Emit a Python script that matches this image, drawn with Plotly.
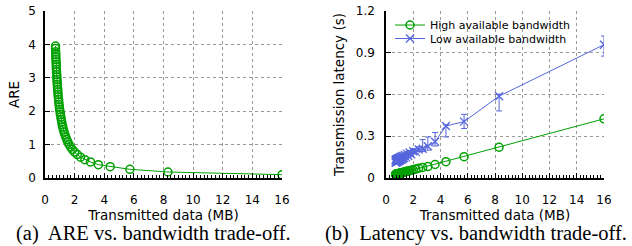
import plotly.graph_objects as go

# ---------------- data ----------------
# (a) ARE vs transmitted data
are_x = [16.0, 8.3, 5.73, 4.4, 3.6, 3.07, 2.69, 2.4, 2.18, 2.0, 1.85, 1.73, 1.63,
         1.54, 1.47, 1.4, 1.34, 1.29, 1.24, 1.2, 1.16, 1.13, 1.10, 1.07, 1.04, 1.02,
         0.99, 0.97, 0.95, 0.93, 0.92, 0.9, 0.88, 0.87, 0.86, 0.84, 0.83, 0.82, 0.81,
         0.8, 0.79, 0.78, 0.77, 0.76, 0.76, 0.75, 0.74, 0.73, 0.73, 0.72, 0.71, 0.71]
are_y = [0.10, 0.18, 0.26, 0.34, 0.40, 0.48, 0.55, 0.625, 0.70, 0.775, 0.85, 0.925, 1.0,
         1.075, 1.15, 1.225, 1.30, 1.375, 1.45, 1.525, 1.60, 1.675, 1.75, 1.825, 1.90, 1.975,
         2.05, 2.125, 2.20, 2.275, 2.35, 2.425, 2.50, 2.575, 2.65, 2.725, 2.80, 2.875, 2.95,
         3.025, 3.10, 3.175, 3.25, 3.325, 3.40, 3.475, 3.55, 3.625, 3.70, 3.78, 3.88, 3.95]

# (b) latency vs transmitted data
lat_x = are_x
lat_high = [0.425, 0.221, 0.153, 0.117, 0.097, 0.082, 0.076, 0.070, 0.064, 0.059, 0.056, 0.052, 0.050,
            0.048, 0.046, 0.044, 0.042, 0.041, 0.040, 0.039, 0.038, 0.037, 0.036, 0.035, 0.035, 0.034,
            0.033, 0.033, 0.032, 0.032, 0.032, 0.031, 0.031, 0.030, 0.030, 0.030, 0.029, 0.029, 0.029,
            0.029, 0.028, 0.028, 0.028, 0.028, 0.028, 0.027, 0.027, 0.027, 0.027, 0.027, 0.026, 0.026]
lat_low = [0.958, 0.588, 0.405, 0.374, 0.260, 0.228, 0.210, 0.205, 0.188, 0.192, 0.170, 0.183, 0.160,
           0.175, 0.150, 0.166, 0.143, 0.160, 0.138, 0.156, 0.134, 0.153, 0.131, 0.150, 0.128, 0.147,
           0.126, 0.144, 0.124, 0.142, 0.122, 0.140, 0.120, 0.138, 0.119, 0.137, 0.118, 0.135, 0.117,
           0.134, 0.116, 0.133, 0.115, 0.132, 0.114, 0.131, 0.113, 0.130, 0.112, 0.129, 0.111, 0.128]
lat_low_err_plus = [0.062, 0.015, 0.053, 0.008, 0.067, 0.067, 0.066, 0.020, 0.018, 0.018, 0.016, 0.016, 0.015,
                    0.015, 0.014, 0.014, 0.014, 0.013, 0.013, 0.013, 0.012, 0.012, 0.012, 0.012, 0.011, 0.011,
                    0.011, 0.011, 0.011, 0.010, 0.010, 0.010, 0.010, 0.010, 0.010, 0.010, 0.010, 0.010, 0.010,
                    0.010, 0.010, 0.010, 0.010, 0.010, 0.010, 0.010, 0.010, 0.010, 0.010, 0.010, 0.010, 0.010]
lat_low_err_minus = [0.082, 0.106, 0.049, 0.079, 0.030, 0.028, 0.020, 0.015, 0.015, 0.014, 0.014, 0.013, 0.013,
                     0.012, 0.012, 0.012, 0.011, 0.011, 0.011, 0.011, 0.010, 0.010, 0.010, 0.010, 0.010, 0.010,
                     0.010, 0.010, 0.010, 0.010, 0.010, 0.010, 0.010, 0.010, 0.010, 0.010, 0.010, 0.010, 0.010,
                     0.010, 0.010, 0.010, 0.010, 0.010, 0.010, 0.010, 0.010, 0.010, 0.010, 0.010, 0.010, 0.010]

x_ticks = [0, 2, 4, 6, 8, 10, 12, 14, 16]
are_ticks = [0, 1, 2, 3, 4, 5]
lat_ticks = [0, 0.3, 0.6, 0.9, 1.2]
lat_tick_labels = ["0", "0.3", "0.6", "0.9", "1.2"]

GREEN = "#00a000"
BLUE = "#5566dd"
FONT = "DejaVu Sans"

W, H = 632, 246


def px_x(v):
    return v / W


def px_y(v):
    return 1 - v / H


fig = go.Figure()

fig.add_trace(go.Scatter(
    x=are_x, y=are_y, mode="lines+markers", xaxis="x", yaxis="y", showlegend=False,
    line=dict(color=GREEN, width=1),
    marker=dict(symbol="circle-open", size=8, color=GREEN, line=dict(width=1.5, color=GREEN)),
))

fig.add_trace(go.Scatter(
    x=lat_x, y=lat_high, mode="lines+markers", xaxis="x2", yaxis="y2",
    name="High available bandwidth", legend="legend",
    line=dict(color=GREEN, width=1),
    marker=dict(symbol="circle-open", size=8, color=GREEN, line=dict(width=1.5, color=GREEN)),
))
fig.add_trace(go.Scatter(
    x=lat_x, y=lat_low, mode="lines+markers", xaxis="x2", yaxis="y2",
    name="Low available bandwidth", legend="legend2",
    line=dict(color=BLUE, width=1),
    marker=dict(symbol="x-thin-open", size=8, color=BLUE, line=dict(width=1.3, color=BLUE)),
    error_y=dict(type="data", symmetric=False, array=lat_low_err_plus, arrayminus=lat_low_err_minus,
                 color=BLUE, thickness=1, width=3),
))

axis_common = dict(
    showline=True, linecolor="black", linewidth=1.5, mirror=False, automargin=False,
    ticks="inside", ticklen=5, tickcolor="black", tickwidth=1,
    showgrid=True, gridcolor="#999999", griddash="dot", gridwidth=1,
    zeroline=False, tickfont=dict(family=FONT, size=12, color="black"),
)

xcommon = dict(axis_common, range=[0, 16], tickvals=x_ticks, ticklabelstandoff=10,
               minor=dict(dtick=0.25, ticks="inside", ticklen=3, tickcolor="black", showgrid=False),
               title=dict(text="Transmitted data (MB)", font=dict(family=FONT, size=13.5, color="black"),
                          standoff=0))

legend_common = dict(xanchor="left", yanchor="top", bgcolor="rgba(0,0,0,0)",
                     font=dict(family=FONT, size=11, color="black"), itemwidth=30, borderwidth=0)

ydom = [px_y(178), px_y(11)]

fig.update_layout(
    width=W, height=H,
    margin=dict(l=0, r=0, t=0, b=0, autoexpand=False),
    paper_bgcolor="white", plot_bgcolor="white",
    xaxis=dict(xcommon, domain=[px_x(45), px_x(282)], anchor="y"),
    yaxis=dict(axis_common, domain=ydom, anchor="x", range=[0, 5], tickvals=are_ticks, ticklabelstandoff=5,
               title=dict(text="ARE", font=dict(family=FONT, size=13.5, color="black"), standoff=5)),
    xaxis2=dict(xcommon, domain=[px_x(386), px_x(604)], anchor="y2"),
    yaxis2=dict(axis_common, domain=ydom, anchor="x2", range=[0, 1.2], ticklabelstandoff=7,
                tickvals=lat_ticks, ticktext=lat_tick_labels,
                title=dict(text="Transmission latency (s)", font=dict(family=FONT, size=13.5, color="black"),
                           standoff=8)),
    legend=dict(legend_common, x=px_x(390), y=px_y(10.5)),
    legend2=dict(legend_common, x=px_x(390), y=px_y(24)),
    annotations=[
        dict(text="(a)\u00a0 ARE vs. bandwidth trade-off.", x=px_x(153), y=px_y(233),
             xref="paper", yref="paper", showarrow=False, xanchor="center", yanchor="middle",
             font=dict(family="Liberation Serif", size=20.5, color="black")),
        dict(text="(b)\u00a0 Latency vs. bandwidth trade-off.", x=px_x(476), y=px_y(233),
             xref="paper", yref="paper", showarrow=False, xanchor="center", yanchor="middle",
             font=dict(family="Liberation Serif", size=20.5, color="black")),
    ],
)

fig.write_html("out.html", config={"displayModeBar": False},
               post_script="document.body.style.margin='0px';")
